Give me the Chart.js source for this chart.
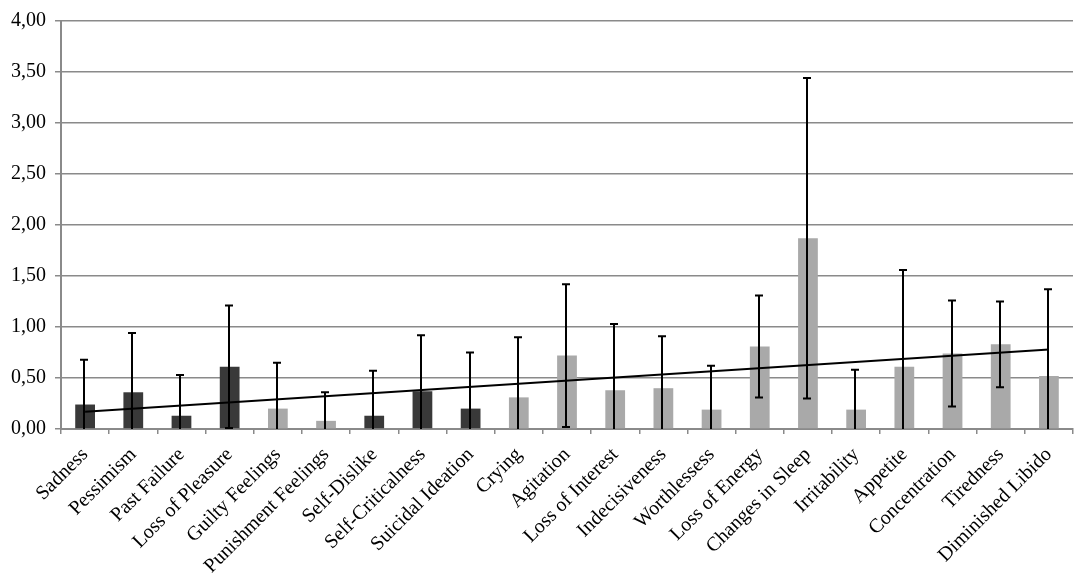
<!DOCTYPE html>
<html>
<head>
<meta charset="utf-8">
<script src="https://cdn.jsdelivr.net/npm/chart.js@4.4.1/dist/chart.umd.min.js"></script>
<style>
  html, body { margin: 0; padding: 0; background: #fff; }
  #wrap { width: 1084px; height: 575px; position: relative; }
</style>
</head>
<body>
<div id="wrap"><canvas id="chart"></canvas></div>
<script>
// symptom items
const items = [
  'Sadness', 'Pessimism', 'Past Failure', 'Loss of Pleasure', 'Guilty Feelings',
  'Punishment Feelings', 'Self-Dislike', 'Self-Criticalness', 'Suicidal Ideation', 'Crying',
  'Agitation', 'Loss of Interest', 'Indecisiveness', 'Worthlessess', 'Loss of Energy',
  'Changes in Sleep', 'Irritability', 'Appetite', 'Concentration', 'Tiredness',
  'Diminished Libido'
];

// mean score per item
const means = [
  0.24, 0.36, 0.13, 0.61, 0.20,
  0.08, 0.13, 0.37, 0.20, 0.31,
  0.72, 0.38, 0.40, 0.19, 0.81,
  1.87, 0.19, 0.61, 0.74, 0.83,
  0.52
];

// standard deviation (error bars)
const sds = [
  0.44, 0.58, 0.40, 0.60, 0.45,
  0.28, 0.44, 0.55, 0.55, 0.59,
  0.70, 0.65, 0.51, 0.43, 0.50,
  1.57, 0.39, 0.95, 0.52, 0.42,
  0.85
];

// group of each item (1 = dark bars, 0 = light bars)
const group = [
  1, 1, 1, 1, 0,
  0, 1, 1, 1, 0,
  0, 0, 0, 0, 0,
  0, 0, 0, 0, 0,
  0
];

// linear trend line, value at first and last item
const trend = [0.17, 0.78];

const yTicks = [0, 0.5, 1, 1.5, 2, 2.5, 3, 3.5, 4];

const DARK = '#393939';
const LIGHT = '#a9a9a9';
const GRID = '#8a8a8a';
const FONT = '"Liberation Serif", "Times New Roman", serif';

// error bars drawn with the chart's own scales
const errorBars = {
  id: 'errorBars',
  afterDatasetsDraw(chart) {
    const ctx = chart.ctx;
    const meta = chart.getDatasetMeta(1);
    const y = chart.scales.y;
    const area = chart.chartArea;
    ctx.save();
    ctx.beginPath();
    ctx.rect(area.left, area.top - 2, area.right - area.left, area.bottom - area.top + 2);
    ctx.clip();
    ctx.strokeStyle = '#000';
    ctx.lineWidth = 2;
    meta.data.forEach((bar, i) => {
      const x = Math.round(bar.x) - 1;
      const hi = y.getPixelForValue(means[i] + sds[i]);
      const lo = y.getPixelForValue(means[i] - sds[i]);
      ctx.beginPath();
      ctx.moveTo(x, hi);
      ctx.lineTo(x, lo);
      ctx.moveTo(x - 4, hi);
      ctx.lineTo(x + 4, hi);
      ctx.moveTo(x - 4, lo);
      ctx.lineTo(x + 4, lo);
      ctx.stroke();
    });
    ctx.restore();
  }
};

const whiteBg = {
  id: 'whiteBg',
  beforeDraw(chart) {
    const ctx = chart.ctx;
    ctx.save();
    ctx.fillStyle = '#fff';
    ctx.fillRect(0, 0, chart.width, chart.height);
    ctx.restore();
  }
};

const trendData = items.map((_, i) => i === 0 ? trend[0] : (i === items.length - 1 ? trend[1] : null));

new Chart(document.getElementById('chart'), {
  data: {
    labels: items,
    datasets: [
      {
        type: 'line',
        data: trendData,
        borderColor: '#000',
        borderWidth: 2,
        pointRadius: 0,
        spanGaps: true,
        order: 0
      },
      {
        type: 'bar',
        data: means,
        backgroundColor: group.map(g => g ? DARK : LIGHT),
        barPercentage: 0.41,
        categoryPercentage: 1,
        order: 1
      }
    ]
  },
  options: {
    responsive: true,
    maintainAspectRatio: false,
    animation: false,
    layout: { padding: { top: 10, right: 11, left: 0, bottom: 0 } },
    plugins: {
      legend: { display: false },
      tooltip: { enabled: false }
    },
    scales: {
      x: {
        offset: true,
        grid: {
          offset: true,
          drawOnChartArea: false,
          drawTicks: true,
          tickLength: 5,
          color: GRID,
          lineWidth: 1.5
        },
        border: { color: GRID, width: 2 },
        ticks: {
          autoSkip: false,
          minRotation: 45,
          maxRotation: 45,
          padding: 9,
          color: '#000',
          font: { family: FONT, size: 20 }
        },
        afterFit(scale) { scale.height = 146; }
      },
      y: {
        min: 0,
        max: 4,
        afterBuildTicks(scale) { scale.ticks = yTicks.map(v => ({ value: v })); },
        grid: {
          color: GRID,
          lineWidth: 1.5,
          drawTicks: true,
          tickLength: 6
        },
        border: { color: GRID, width: 2 },
        ticks: {
          padding: 9,
          color: '#000',
          font: { family: FONT, size: 20 },
          callback: v => v.toFixed(2).replace('.', ',')
        },
        afterFit(scale) { scale.width = 61; }
      }
    }
  },
  plugins: [whiteBg, errorBars]
});
</script>
</body>
</html>
